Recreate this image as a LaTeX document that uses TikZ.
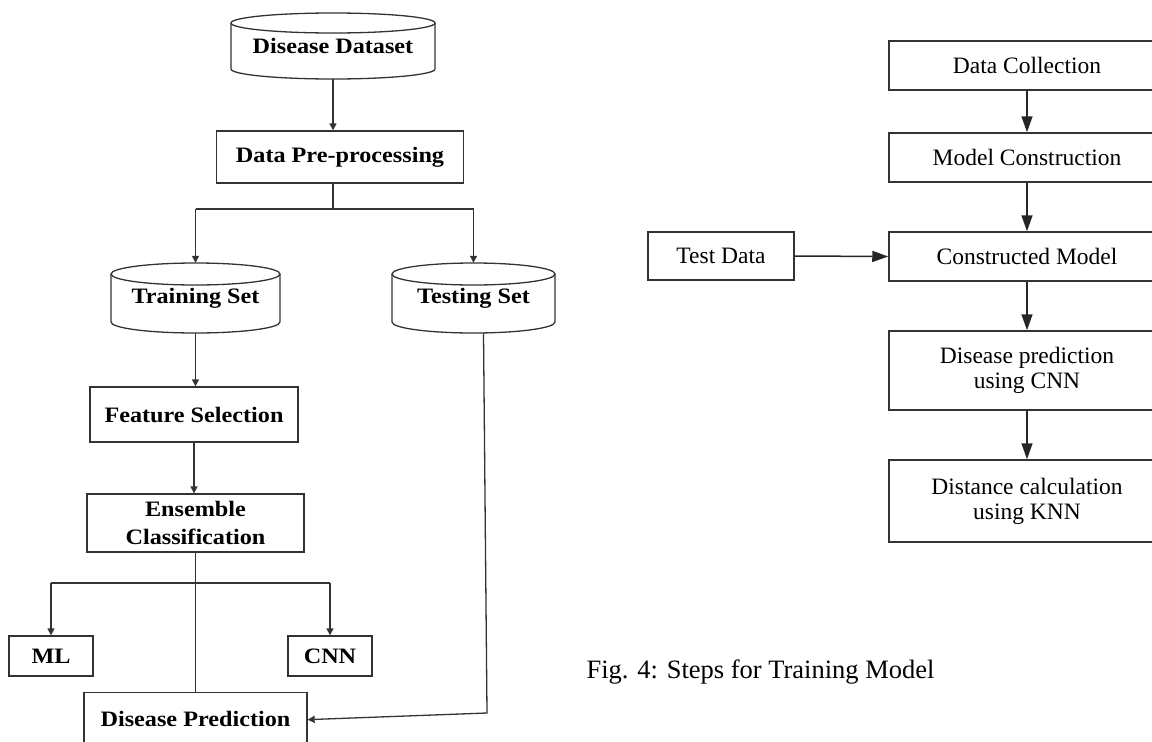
\documentclass[tikz,border=0pt]{standalone}
\usepackage{fontspec}
\setmainfont{Liberation Serif}
\newfontfamily\lfont[FakeStretch=1.1]{Liberation Serif}
\usetikzlibrary{arrows.meta}
\definecolor{lc}{gray}{0.2}
\newcommand\dbcyl[5]{%
  \pgfmathsetmacro\cx{(#1+#2)/2}\pgfmathsetmacro\rx{(#2-#1)/2}%
  \draw[ll] (\cx,#3+#5) ellipse[x radius=\rx pt, y radius=#5 pt];
  \draw[ll] (#1,#3+#5) -- (#1,#4-#5) arc[start angle=180,end angle=360,x radius=\rx pt,y radius=#5 pt] -- (#2,#3+#5);
}
\begin{document}
\begin{tikzpicture}[x=1pt,y=-1pt,
  lfnt/.style={font=\lfont\bfseries\fontsize{22}{28}\selectfont},
  lbox/.style={draw=lc, line width=1.3pt, inner sep=0pt, lfnt, align=center},
  cyltext/.style={inner sep=0pt, lfnt},
  la/.style={draw=lc, line width=1.3pt, -{Triangle[length=7pt,width=7pt]}},
  ll/.style={draw=lc, line width=1.3pt},
  rbox/.style={draw=black!80, line width=1.5pt, inner sep=0pt, align=center, font=\fontsize{23.5}{25}\selectfont},
  ra/.style={draw=black!85, line width=1.5pt, -{Triangle[length=16pt,width=11pt]}},
]
\useasboundingbox (0,0) rectangle (1152,742);
\clip (0,0) rectangle (1152,742);

% ---------- left diagram ----------
\dbcyl{231}{435}{13}{79}{10}
\dbcyl{111}{280}{263}{333}{11}
\dbcyl{392}{555}{263}{333}{11}

\node[cyltext, minimum width=204, minimum height=66] (dd) at (333,46) {\raisebox{-6pt}{Disease Dataset}};
\node[cyltext, minimum width=169, minimum height=70] (tr) at (195.5,298) {\raisebox{-5pt}{Training Set}};
\node[cyltext, minimum width=163, minimum height=70] (te) at (473.5,298) {\raisebox{-5pt}{Testing Set}};

\node[lbox, minimum width=247, minimum height=52] (pp) at (340,157) {Data Pre-processing};
\node[lbox, minimum width=208, minimum height=55] (fs) at (194,414.5) {Feature Selection};
\node[lbox, minimum width=217, minimum height=58] (ens) at (195.5,523) {Ensemble\\Classification};
\node[lbox, minimum width=84, minimum height=40] (ml) at (51,656) {ML};
\node[lbox, minimum width=84, minimum height=40] (cnn) at (330,656) {CNN};
\node[lbox, minimum width=223, minimum height=62, anchor=north] (dp) at (195.5,692) {\raisebox{9pt}{Disease Prediction}};

\coordinate (b1) at (335,209);
\coordinate (b2) at (193,583);
\coordinate (tb) at (487,713);

\draw[la] (dd.south) -- (dd.south |- pp.north);
\draw[ll] (dd.south |- pp.south) -- (dd.south |- b1);
\draw[ll] (tr.north |- b1) -- (te.north |- b1);
\draw[la] (tr.north |- b1) -- (tr.north);
\draw[la] (te.north |- b1) -- (te.north);
\draw[la] (tr.south) -- (tr.south |- fs.north);
\draw[la] (fs.south) -- (fs.south |- ens.north);
\draw[ll] (ens.south) -- (ens.south |- dp.north);
\draw[ll] (ml.north |- b2) -- (cnn.north |- b2);
\draw[la] (ml.north |- b2) -- (ml.north);
\draw[la] (cnn.north |- b2) -- (cnn.north);
\draw[la] ([xshift=10pt]te.south) -- (tb) -- ([yshift=4pt]dp.east);

% ---------- right diagram ----------
\node[rbox, minimum width=276, minimum height=49] (dc) at (1027,65.5) {Data Collection};
\node[rbox, minimum width=276, minimum height=49] (mc) at (1027,157.5) {Model Construction};
\node[rbox, minimum width=276, minimum height=49] (cm) at (1027,256.5) {Constructed Model};
\node[rbox, minimum width=146, minimum height=48] (td) at (721,256) {Test Data};
\node[rbox, minimum width=276, minimum height=79] (dpc) at (1027,370.5) {Disease prediction\\using CNN};
\node[rbox, minimum width=276, minimum height=82] (dkn) at (1027,501) {Distance calculation\\using KNN};

\draw[ra] (dc.south) -- (mc.north);
\draw[ra] (mc.south) -- (cm.north);
\draw[ra] (td.east) -- (cm.west);
\draw[ra] (cm.south) -- (dpc.north);
\draw[ra] (dpc.south) -- (dkn.north);

\node[font=\fontsize{26.5}{30}\selectfont, inner sep=0pt] (cap) at (760.5,672) {Fig. 4: Steps for Training Model};
\end{tikzpicture}
\end{document}
